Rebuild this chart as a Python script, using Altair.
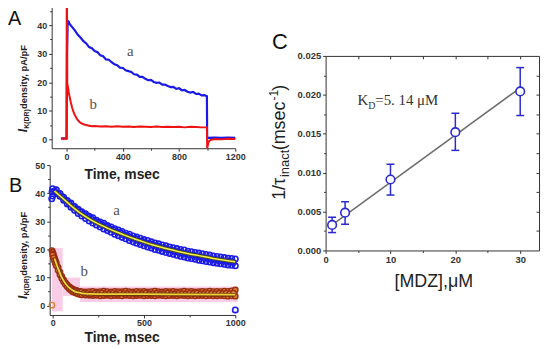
import altair as alt
import pandas as pd

W, H = 538, 340

# ---------------- Panel A data (current traces) ----------------
a_blue_t = [-40, -20, -1, 0, 3, 8, 15, 20, 40, 60, 80, 100, 120, 140, 160, 180, 200, 220, 240, 260, 280,
            300, 320, 340, 360, 380, 400, 420, 440, 460, 480, 500, 520, 540, 560, 580, 600, 620, 640,
            660, 680, 700, 720, 740, 760, 780, 800, 820, 840, 860, 880, 900, 920, 940, 960, 980, 998,
            1000, 1005, 1050, 1100, 1150, 1200]
a_blue_v = [0.3, 0.4, 0.3, 0.3, 30.0, 41.5, 41.2, 40.5, 39.3, 38.1, 36.6, 35.6, 34.4, 33.6, 32.3, 31.9,
            30.9, 30.5, 29.4, 29.1, 28.0, 27.9, 27.0, 26.3, 26.0, 25.1, 25.0, 24.2, 23.9, 23.6, 22.8,
            22.7, 21.9, 21.9, 21.2, 20.7, 20.8, 20.1, 19.8, 19.9, 19.2, 19.2, 18.7, 18.3, 18.4, 17.7,
            17.9, 17.2, 17.3, 16.7, 16.4, 16.6, 15.9, 16.0, 15.4, 15.5, 15.1,
            0.6, 0.5, 0.6, 0.5, 0.6, 0.5]

a_red_t = [-40, -20, -1, 0, 1, 3, 5, 10, 15, 20, 30, 40, 50, 60, 70, 80, 90, 100, 120, 140, 160, 180,
           200, 240, 280, 320, 360, 400, 440, 480, 520, 560, 600, 640, 680, 720, 760, 800, 840, 880,
           920, 960, 998, 1000, 1003, 1008, 1015, 1030, 1060, 1100, 1150, 1200]
a_red_v = [0.2, 0.3, 0.2, 0.2, 46.6, 46.6, 19.5, 18.2, 16.5, 15.3, 13.0, 11.0, 9.5, 8.4, 7.5, 6.7, 6.2,
           5.8, 5.3, 5.0, 4.8, 4.6, 4.7, 4.5, 4.6, 4.4, 4.6, 4.4, 4.5, 4.3, 4.5, 4.4, 4.3, 4.5, 4.3,
           4.4, 4.3, 4.4, 4.2, 4.4, 4.3, 4.2, 4.2, -3.0, -2.5, -1.2, -0.5, -0.1, 0.1, 0.0, 0.2, 0.1]

# ---------------- Panel B data (data points and fits) ----------------
b_t = [0, 20, 40, 60, 80, 100, 120, 140, 160, 180, 200, 220, 240, 260, 280, 300, 320, 340, 360, 380,
       400, 420, 440, 460, 480, 500, 520, 540, 560, 580, 600, 620, 640, 660, 680, 700, 720, 740, 760,
       780, 800, 820, 840, 860, 880, 900, 920, 940, 960, 980, 1000]
b_a_upper = [41.6, 41.2, 39.9, 38.6, 37.4, 36.5, 35.3, 34.3, 33.4, 32.7, 31.8, 31.3, 30.4, 29.8, 29.3,
             28.5, 28.0, 27.4, 26.9, 26.4, 25.8, 25.4, 24.8, 24.4, 24.0, 23.5, 23.2, 22.7, 22.3, 22.0,
             21.6, 21.3, 20.9, 20.6, 20.3, 20.0, 19.8, 19.4, 19.2, 18.9, 18.7, 18.5, 18.2, 18.0, 17.7,
             17.5, 17.3, 17.1, 16.9, 16.8, 16.6]
b_a_lower = [39.0, 40.0, 38.9, 37.5, 36.2, 35.0, 33.9, 32.8, 31.9, 31.0, 30.1, 29.4, 28.7, 28.0, 27.3,
             26.7, 26.1, 25.4, 24.9, 24.3, 23.8, 23.2, 22.7, 22.2, 21.8, 21.3, 20.9, 20.5, 20.0, 19.7,
             19.3, 18.9, 18.6, 18.3, 17.9, 17.6, 17.3, 17.0, 16.8, 16.5, 16.2, 16.0, 15.7, 15.5, 15.3,
             15.1, 14.9, 14.7, 14.5, 14.4, 14.2]
b_mid_t = [10, 30, 50, 70, 90, 110, 130, 150, 170, 190, 210, 230, 250, 270, 290, 310, 330, 350, 370, 390,
           410, 430, 450, 470, 490, 510, 530, 550, 570, 590, 610, 630, 650, 670, 690, 710, 730, 750, 770,
           790, 810, 830, 850, 870, 890, 910, 930, 950, 970, 990]
b_a_mid = [40.8, 39.9, 38.8, 37.6, 36.4, 35.4, 34.5, 33.4, 32.6, 31.8, 31.0, 30.2, 29.6, 28.8, 28.3,
           27.5, 27.1, 26.3, 26.0, 25.2, 24.9, 24.1, 23.9, 23.2, 22.9, 22.3, 22.1, 21.5, 21.3, 20.7,
           20.5, 20.0, 19.8, 19.3, 19.2, 18.6, 18.5, 18.0, 17.9, 17.5, 17.4, 17.0, 16.9, 16.5, 16.4,
           16.1, 16.0, 15.7, 15.7, 15.4]
b_a_extra_t = [-5, -3, 1000]
b_a_extra_v = [38.0, 40.5, -1.5]

b_a_fit_t = [10, 50, 100, 150, 200, 250, 300, 350, 400, 450, 500, 550, 600, 650, 700, 750, 800, 850,
             900, 950, 1000]
b_a_fit_v = [40.8, 38.5, 35.6, 33.0, 30.9, 29.1, 27.6, 26.2, 24.9, 23.7, 22.6, 21.6, 20.7, 19.9, 19.1,
             18.4, 17.8, 17.2, 16.6, 16.1, 15.6]

b_b_upper_t = [-4, 0, 4, 8, 12, 16, 20, 30, 40, 50, 60, 70, 80, 90, 100, 110, 120, 130, 140, 150, 160,
               180, 200, 220, 240, 260, 280, 300, 320, 340, 360, 380, 400, 420, 440, 460, 480, 500,
               520, 540, 560, 580, 600, 620, 640, 660, 680, 700, 720, 740, 760, 780, 800, 820, 840,
               860, 880, 900, 920, 940, 960, 980, 1000]
b_b_upper_v = [19.6, 19.0, 18.3, 17.4, 16.6, 15.8, 15.2, 13.6, 11.9, 10.4, 9.2, 8.2, 7.4, 6.8, 6.3, 5.9,
               5.6, 5.4, 5.2, 5.1, 5.0, 4.9, 5.0, 5.1, 4.9, 5.0, 5.2, 5.0, 4.9, 5.1, 5.0, 5.0, 5.2, 5.0,
               4.9, 5.1, 5.0, 5.1, 4.9, 5.0, 5.2, 5.0, 4.9, 5.1, 5.0, 5.1, 4.9, 5.0, 5.2, 5.0, 5.1, 4.9,
               5.0, 5.1, 5.0, 5.2, 5.0, 5.1, 5.0, 5.2, 5.1, 5.3, 5.6]
b_b_lower_t = [0, 5, 10, 15, 20, 30, 40, 50, 60, 70, 80, 90, 100, 110, 120, 130, 140, 150, 160, 180,
               200, 220, 240, 260, 280, 300, 320, 340, 360, 380, 400, 420, 440, 460, 480, 500, 520,
               540, 560, 580, 600, 620, 640, 660, 680, 700, 720, 740, 760, 780, 800, 820, 840, 860,
               880, 900, 920, 940, 960, 980, 1000]
b_b_lower_v = [18.0, 17.0, 16.0, 15.0, 14.2, 12.6, 11.0, 9.7, 8.5, 7.5, 6.7, 6.0, 5.5, 5.0, 4.7, 4.4,
               4.2, 4.0, 3.9, 3.8, 3.7, 3.6, 3.7, 3.5, 3.6, 3.7, 3.5, 3.6, 3.6, 3.5, 3.7, 3.6, 3.5, 3.6,
               3.7, 3.5, 3.6, 3.6, 3.5, 3.7, 3.6, 3.5, 3.6, 3.6, 3.5, 3.7, 3.6, 3.5, 3.6, 3.5, 3.6, 3.6,
               3.5, 3.6, 3.5, 3.5, 3.6, 3.5, 3.4, 3.5, 3.4]
b_b_mid_t = [170, 190, 210, 230, 250, 270, 290, 310, 330, 350, 370, 390, 410, 430, 450, 470, 490, 510,
             530, 550, 570, 590, 610, 630, 650, 670, 690, 710, 730, 750, 770, 790, 810, 830, 850, 870,
             890, 910, 930, 950, 970, 990]
b_b_mid_v = [4.4, 4.3, 4.2, 4.4, 4.3, 4.5, 4.2, 4.3, 4.4, 4.2, 4.5, 4.3, 4.3, 4.4, 4.2, 4.4, 4.3, 4.5,
             4.2, 4.3, 4.4, 4.2, 4.3, 4.5, 4.3, 4.2, 4.4, 4.3, 4.2, 4.4, 4.3, 4.5, 4.2, 4.3, 4.4, 4.3,
             4.2, 4.4, 4.3, 4.4, 4.3, 4.5]
b_b_zero_t = [-4]
b_b_zero_v = [0.2]

b_b_fit_t = [10, 20, 30, 40, 50, 60, 70, 80, 90, 100, 120, 140, 160, 200, 300, 500, 700, 1000]
b_b_fit_v = [16.8, 15.0, 13.2, 11.5, 10.1, 8.9, 7.9, 7.1, 6.4, 5.9, 5.1, 4.7, 4.4, 4.2, 4.1, 4.1, 4.0, 3.9]

pink_x1 = [-5, 55, 150]
pink_x2 = [55, 150, 1015]
pink_y1 = [-2.0, 3.5, 1.3]
pink_y2 = [20.5, 10.0, 6.8]

# ---------------- Panel C data ----------------
mdz = [1, 3, 10, 20, 30]
rate = [0.00328, 0.00486, 0.00912, 0.0152, 0.02044]
rate_lo = [0.0023, 0.00337, 0.00712, 0.01286, 0.01734]
rate_hi = [0.00427, 0.00626, 0.01108, 0.01763, 0.0235]
fit_x = [1, 30]
fit_y = [0.0033, 0.0209]

# ---------------- scales (pixel ranges inside one drawing group) ----------------
def sc(dom, rng):
    return alt.Scale(domain=dom, range=rng, nice=False, zero=False)

A_X = sc([-106, 1200], [44, 229])
A_Y = sc([-3.1, 46.6], [140, -3])
B_X = sc([-16.3, 1000], [42, 229])
B_Y = sc([-3.3, 50], [308, 157])
C_X = sc([0, 32.9], [320, 535])
C_Y = sc([0, 0.025], [243, 47])

AX = dict(domainColor="#333333", tickColor="#333333", labelColor="#333333",
          labelFont="Liberation Sans", labelFontWeight="bold",
          grid=False, title=None, labelFlush=False, labelOverlap=False,
          domainWidth=1, tickWidth=1)

def axis(orient, offset, values, tick=3, labels=True, domain=True, fmt="d", size=9, pad=2):
    return alt.Axis(orient=orient, offset=offset, values=values, tickSize=tick, format=fmt,
                    labels=labels, domain=domain, labelPadding=pad, labelFontSize=size, **AX)

axA_x = axis("bottom", 140 - H, [0, 400, 800, 1200], pad=1)
axA_y = axis("left", -44, [0, 10, 20, 30, 40])
axB_x = axis("bottom", 308 - H, [0, 500, 1000], pad=1)
axB_y = axis("left", -42, [0, 10, 20, 30, 40, 50])
axC_x = axis("bottom", 243 - H, [0, 10, 20, 30], tick=3, size=9.5, pad=1)
axC_y = axis("left", -320, [0, 0.005, 0.01, 0.015, 0.02, 0.025], tick=3, fmt=".3f", size=9.5, pad=2)


def df(**cols):
    return pd.DataFrame(cols)


# ---------------- Panel A ----------------
dA_blue = df(t=a_blue_t, v=a_blue_v)
dA_red = df(t=a_red_t, v=a_red_v)

panelA = alt.layer(
    alt.Chart(dA_blue).mark_line(color="#1a1ae6", strokeWidth=2.2).encode(
        x=alt.X("t:Q", scale=A_X, axis=axA_x), y=alt.Y("v:Q", scale=A_Y, axis=axA_y), order="t:Q"),
    alt.Chart(dA_red).mark_line(color="#ee1111", strokeWidth=2).encode(
        x=alt.X("t:Q", scale=A_X, axis=axA_x), y=alt.Y("v:Q", scale=A_Y, axis=axA_y), order="t:Q"),
)

# ---------------- Panel B ----------------
dB_pink = df(x1=pink_x1, x2=pink_x2, y1=pink_y1, y2=pink_y2)
dB_a = pd.concat([df(t=b_t, v=b_a_upper), df(t=b_t, v=b_a_lower), df(t=b_mid_t, v=b_a_mid),
                  df(t=b_a_extra_t, v=b_a_extra_v)], ignore_index=True)
dB_b = pd.concat([df(t=b_b_upper_t, v=b_b_upper_v), df(t=b_b_lower_t, v=b_b_lower_v),
                  df(t=b_b_mid_t, v=b_b_mid_v)], ignore_index=True)
dB_zero = df(t=b_b_zero_t, v=b_b_zero_v)
dB_fa = df(t=b_a_fit_t, v=b_a_fit_v)
dB_fb = df(t=b_b_fit_t, v=b_b_fit_v)

def bx(f="t"):
    return alt.X(f + ":Q", scale=B_X, axis=axB_x)

def by(f="v"):
    return alt.Y(f + ":Q", scale=B_Y, axis=axB_y)

panelB = alt.layer(
    alt.Chart(dB_pink).mark_rect(color="#f9cde6").encode(x=bx("x1"), x2="x2:Q", y=by("y1"), y2="y2:Q"),
    alt.Chart(dB_a).mark_point(color="#1c1ce8", size=30, strokeWidth=1.6, opacity=1).encode(x=bx(), y=by()),
    alt.Chart(dB_b).mark_point(filled=True, fill="#d8803a", stroke="#9a2e10", size=30, strokeWidth=1.4,
                               opacity=1, fillOpacity=1).encode(x=bx(), y=by()),
    alt.Chart(dB_zero).mark_point(color="#d08030", size=30, strokeWidth=1.4, opacity=1).encode(x=bx(), y=by()),
    alt.Chart(dB_fa).mark_line(color="#4a4a20", strokeWidth=3.5, interpolate="monotone").encode(x=bx(), y=by()),
    alt.Chart(dB_fa).mark_line(color="#f2f24a", strokeWidth=1.5, interpolate="monotone").encode(x=bx(), y=by()),
    alt.Chart(dB_fb).mark_line(color="#6a3a10", strokeWidth=3.5, interpolate="monotone").encode(x=bx(), y=by()),
    alt.Chart(dB_fb).mark_line(color="#f6d23a", strokeWidth=1.8, interpolate="monotone").encode(x=bx(), y=by()),
)

# ---------------- Panel C ----------------
dC = df(x=mdz, y=rate, lo=rate_lo, hi=rate_hi)
dC_fit = df(x=fit_x, y=fit_y)

def cx(f="x"):
    return alt.X(f + ":Q", scale=C_X, axis=axC_x)

def cy(f="y"):
    return alt.Y(f + ":Q", scale=C_Y, axis=axC_y)

panelC = alt.layer(
    alt.Chart(dC_fit).mark_line(color="#6e6e6e", strokeWidth=1.5).encode(x=cx(), y=cy()),
    alt.Chart(dC).mark_rule(color="#2a2ad0", strokeWidth=1.5).encode(x=cx(), y=cy("lo"), y2="hi:Q"),
    alt.Chart(dC).mark_rule(color="#2a2ad0", strokeWidth=1.5, xOffset=-4, x2Offset=4).encode(
        x=cx(), x2="x:Q", y=cy("hi")),
    alt.Chart(dC).mark_rule(color="#2a2ad0", strokeWidth=1.5, xOffset=-4, x2Offset=4).encode(
        x=cx(), x2="x:Q", y=cy("lo")),
    alt.Chart(dC).mark_point(shape="circle", filled=True, fill="white", stroke="#2a2ad0", strokeWidth=1.6,
                             size=75, opacity=1).encode(x=cx(), y=cy()),
)

# ---------------- extra axes: minor ticks and the mirrored box of C ----------------
def axis_layer(xs, ys, axx, axy):
    d = df(x=[xs.domain[0], xs.domain[1]], y=[ys.domain[0], ys.domain[1]])
    return alt.Chart(d).mark_point(opacity=0, size=1).encode(
        x=alt.X("x:Q", scale=xs, axis=axx), y=alt.Y("y:Q", scale=ys, axis=axy))

minorA = axis_layer(A_X, A_Y,
                    axis("bottom", 140 - H, [200, 600, 1000], tick=2, labels=False, domain=False),
                    axis("left", -44, [5, 15, 25, 35, 45], tick=2, labels=False, domain=False))
minorB = axis_layer(B_X, B_Y,
                    axis("bottom", 308 - H, [250, 750], tick=2, labels=False, domain=False),
                    axis("left", -42, [5, 15, 25, 35, 45], tick=2, labels=False, domain=False))
minorC = axis_layer(C_X, C_Y,
                    axis("bottom", 243 - H, [5, 15, 25], tick=2, labels=False, domain=False),
                    axis("left", -320, [0.0025, 0.0075, 0.0125, 0.0175, 0.0225], tick=2, labels=False,
                         domain=False, fmt=".4f"))
boxC = axis_layer(C_X, C_Y,
                  axis("bottom", 47 - H, [5, 10, 15, 20, 25, 30], tick=3, labels=False, domain=True),
                  axis("left", -535, [0.0025, 0.005, 0.0075, 0.01, 0.0125, 0.015, 0.0175, 0.02, 0.0225],
                       tick=3, labels=False, domain=True, fmt=".4f"))

# ---------------- texts ----------------
one = df(k=[0])

def txt(s, x, y, size, font="Liberation Sans", weight="normal", style="normal", angle=None,
        align="left", baseline="alphabetic", color="#222222"):
    kw = dict(text=s, font=font, fontSize=size, fontWeight=weight, fontStyle=style, align=align,
              baseline=baseline, color=color)
    if angle is not None:
        kw["angle"] = angle
    return alt.Chart(one).mark_text(**kw).encode(x=alt.value(x), y=alt.value(y))

texts = [
    txt("A", 0, 16, 20, color="#111111"),
    txt("B", 1, 184, 20, color="#111111"),
    txt("C", 266, 40, 22, color="#111111"),
    # y titles of A and B
    txt("I", 19, 124, 12, weight="bold", style="italic", angle=270),
    txt("K(DR)", 21, 120.5, 7, weight="bold", angle=270),
    txt("density, pA/pF", 19, 100.5, 9.5, weight="bold", angle=270),
    txt("I", 19, 292, 12, weight="bold", style="italic", angle=270),
    txt("K(DR)", 21, 288.5, 7, weight="bold", angle=270),
    txt("density, pA/pF", 19, 268.5, 9.5, weight="bold", angle=270),
    # x titles
    txt("Time,  msec", 115, 167, 14, weight="bold", align="center", baseline="middle"),
    txt("Time,  msec", 115, 331, 14, weight="bold", align="center", baseline="middle"),
    # curve labels
    txt("a", 120, 47, 15, font="Liberation Serif", color="#555555"),
    txt("b", 82, 100, 15, font="Liberation Serif", color="#555555"),
    txt("a", 106, 207, 15, font="Liberation Serif", color="#555555"),
    txt("b", 73, 269, 15, font="Liberation Serif", color="#555555"),
    # panel C titles
    txt("[MDZ],\u03bcM", 429, 275, 18, align="center", baseline="middle"),
    txt("1/\u03c4", 279, 192, 18, angle=270),
    txt("inact", 283, 169, 13, angle=270),
    txt(" (msec", 279, 142, 18, angle=270),
    txt("-1", 272, 92, 12, angle=270),
    txt(")", 279, 82, 18, angle=270),
    # K_D annotation
    txt("K", 352, 96, 15, font="Liberation Serif", color="#333333"),
    txt("D", 363, 100, 10, font="Liberation Serif", color="#333333"),
    txt("=5. 14  \u03bcM", 370, 96, 15, font="Liberation Serif", color="#333333"),
]

chart = alt.layer(
    panelB, panelA, panelC, minorA, minorB, minorC, boxC, *texts
).resolve_scale(x="independent", y="independent").resolve_axis(
    x="independent", y="independent"
).properties(
    width=W, height=H, autosize=alt.AutoSizeParams(type="none"), padding=0
).configure_view(stroke=None)

chart.save("out.html", embed_options={"renderer": "svg", "actions": False})
